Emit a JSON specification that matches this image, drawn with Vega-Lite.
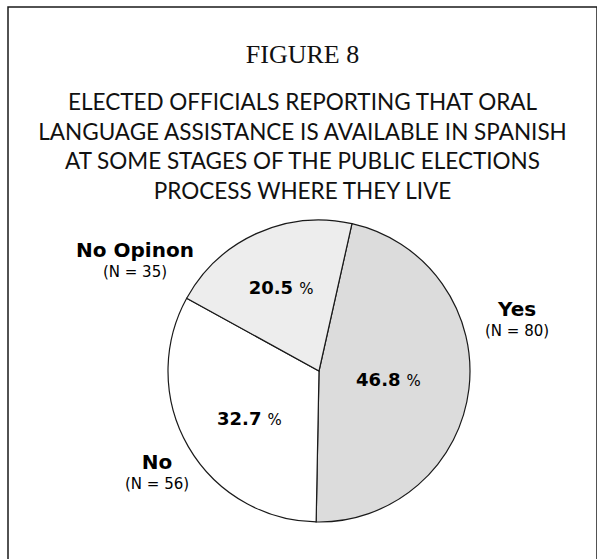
{
  "$schema": "https://vega.github.io/schema/vega-lite/v6.json",
  "autosize": "none",
  "padding": {"left": 8, "top": 7, "right": 0, "bottom": -3},
  "width": 589,
  "height": 555,
  "background": "white",
  "view": {"stroke": "#1a1a1a", "strokeWidth": 1.5},
  "title": {
    "text": "FIGURE 8",
    "subtitle": [
      "ELECTED OFFICIALS REPORTING THAT ORAL",
      "LANGUAGE ASSISTANCE IS AVAILABLE IN SPANISH",
      "AT SOME STAGES OF THE PUBLIC ELECTIONS",
      "PROCESS WHERE THEY LIVE"
    ],
    "font": "Liberation Serif",
    "fontSize": 26,
    "fontWeight": "normal",
    "color": "#111111",
    "subtitleFont": "Lato",
    "subtitleFontSize": 22.5,
    "subtitleColor": "#111111",
    "subtitleLineHeight": 29.5,
    "subtitlePadding": 24,
    "anchor": "middle",
    "frame": "group",
    "offset": -196
  },
  "data": {
    "values": [
      {"cat": "Yes", "pct": 46.8, "nlab": "(N = 80)"},
      {"cat": "No", "pct": 32.7, "nlab": "(N = 56)"},
      {"cat": "No Opinon", "pct": 20.5, "nlab": "(N = 35)"}
    ]
  },
  "encoding": {
    "theta": {"field": "pct", "type": "quantitative", "stack": true, "scale": {"domain": [0, 100], "range": [0.22, 6.5032]}},
    "order": {"field": "pct", "sort": "descending"}
  },
  "layer": [
    {
      "mark": {"type": "arc", "outerRadius": 151, "stroke": "#1a1a1a", "strokeWidth": 1.2, "xOffset": 16.5, "yOffset": 86.5},
      "encoding": {
        "color": {"field": "cat", "type": "nominal", "scale": {"domain": ["Yes", "No", "No Opinon"], "range": ["#dcdcdc", "#ffffff", "#ededed"]}, "legend": null}
      }
    },
    {
      "mark": {"type": "text", "radius": 70, "xOffset": 16.5, "yOffset": 86.5, "font": "DejaVu Sans", "fontWeight": "bold", "fontSize": 18, "align": "right", "baseline": "alphabetic", "dx": 12, "dy": 6.5, "color": "#000000"},
      "encoding": {"text": {"condition": {"test": "datum.cat === 'Yes'", "field": "pct", "type": "quantitative", "format": ".1f"}, "value": ""}}
    },
    {
      "mark": {"type": "text", "radius": 70, "xOffset": 16.5, "yOffset": 86.5, "font": "DejaVu Sans", "fontSize": 15, "align": "left", "baseline": "alphabetic", "dx": 18, "dy": 6.5, "color": "#000000"},
      "encoding": {"text": {"condition": {"test": "datum.cat === 'Yes'", "value": "%"}, "value": ""}}
    },
    {
      "mark": {"type": "text", "radius": 84, "thetaOffset": -0.07, "xOffset": 16.5, "yOffset": 86.5, "font": "DejaVu Sans", "fontWeight": "bold", "fontSize": 18, "align": "right", "baseline": "alphabetic", "dx": 12, "dy": 6.5, "color": "#000000"},
      "encoding": {"text": {"condition": {"test": "datum.cat === 'No'", "field": "pct", "type": "quantitative", "format": ".1f"}, "value": ""}}
    },
    {
      "mark": {"type": "text", "radius": 84, "thetaOffset": -0.07, "xOffset": 16.5, "yOffset": 86.5, "font": "DejaVu Sans", "fontSize": 15, "align": "left", "baseline": "alphabetic", "dx": 18, "dy": 6.5, "color": "#000000"},
      "encoding": {"text": {"condition": {"test": "datum.cat === 'No'", "value": "%"}, "value": ""}}
    },
    {
      "mark": {"type": "text", "radius": 92, "xOffset": 16.5, "yOffset": 86.5, "font": "DejaVu Sans", "fontWeight": "bold", "fontSize": 18, "align": "right", "baseline": "alphabetic", "dx": 12, "dy": 6.5, "color": "#000000"},
      "encoding": {"text": {"condition": {"test": "datum.cat === 'No Opinon'", "field": "pct", "type": "quantitative", "format": ".1f"}, "value": ""}}
    },
    {
      "mark": {"type": "text", "radius": 92, "xOffset": 16.5, "yOffset": 86.5, "font": "DejaVu Sans", "fontSize": 15, "align": "left", "baseline": "alphabetic", "dx": 18, "dy": 6.5, "color": "#000000"},
      "encoding": {"text": {"condition": {"test": "datum.cat === 'No Opinon'", "value": "%"}, "value": ""}}
    },
    {
      "mark": {"type": "text", "radius": 205.5, "thetaOffset": -0.389, "xOffset": 16.5, "yOffset": 86.5, "font": "DejaVu Sans", "fontWeight": "bold", "fontSize": 20, "align": "center", "baseline": "alphabetic", "color": "#000000"},
      "encoding": {"text": {"condition": {"test": "datum.cat === 'Yes'", "field": "cat", "type": "nominal"}, "value": ""}}
    },
    {
      "mark": {"type": "text", "radius": 205.5, "thetaOffset": -0.389, "xOffset": 16.5, "yOffset": 86.5, "font": "DejaVu Sans", "fontSize": 15, "align": "center", "baseline": "alphabetic", "dy": 20, "color": "#000000"},
      "encoding": {"text": {"condition": {"test": "datum.cat === 'Yes'", "field": "nlab", "type": "nominal"}, "value": ""}}
    },
    {
      "mark": {"type": "text", "radius": 189.3, "thetaOffset": -0.02, "xOffset": 16.5, "yOffset": 86.5, "font": "DejaVu Sans", "fontWeight": "bold", "fontSize": 20, "align": "center", "baseline": "alphabetic", "color": "#000000"},
      "encoding": {"text": {"condition": {"test": "datum.cat === 'No'", "field": "cat", "type": "nominal"}, "value": ""}}
    },
    {
      "mark": {"type": "text", "radius": 189.3, "thetaOffset": -0.02, "xOffset": 16.5, "yOffset": 86.5, "font": "DejaVu Sans", "fontSize": 15, "align": "center", "baseline": "alphabetic", "dy": 20, "color": "#000000"},
      "encoding": {"text": {"condition": {"test": "datum.cat === 'No'", "field": "nlab", "type": "nominal"}, "value": ""}}
    },
    {
      "mark": {"type": "text", "radius": 216.5, "thetaOffset": -0.592, "xOffset": 16.5, "yOffset": 86.5, "font": "DejaVu Sans", "fontWeight": "bold", "fontSize": 20, "align": "center", "baseline": "alphabetic", "color": "#000000"},
      "encoding": {"text": {"condition": {"test": "datum.cat === 'No Opinon'", "field": "cat", "type": "nominal"}, "value": ""}}
    },
    {
      "mark": {"type": "text", "radius": 216.5, "thetaOffset": -0.592, "xOffset": 16.5, "yOffset": 86.5, "font": "DejaVu Sans", "fontSize": 15, "align": "center", "baseline": "alphabetic", "dy": 20, "color": "#000000"},
      "encoding": {"text": {"condition": {"test": "datum.cat === 'No Opinon'", "field": "nlab", "type": "nominal"}, "value": ""}}
    }
  ]
}
